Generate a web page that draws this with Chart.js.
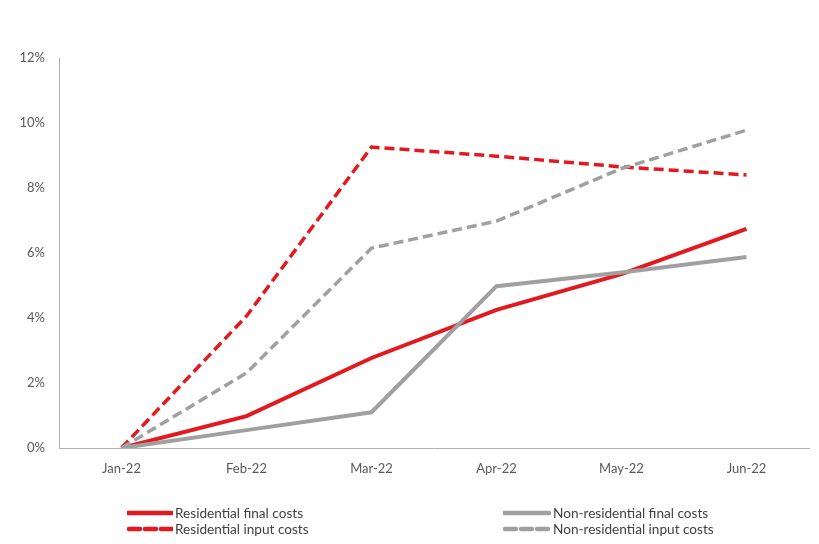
<!DOCTYPE html>
<html>
<head>
<meta charset="utf-8">
<script src="https://cdn.jsdelivr.net/npm/chart.js@4"></script>
<style>
html,body{margin:0;padding:0;background:#fff;}
#wrap{position:relative;width:819px;height:544px;}
canvas{position:absolute;left:0;top:0;}
.leg{position:absolute;font-family:Lato,"Open Sans",sans-serif;font-size:13.6px;color:#404040;display:flex;align-items:center;white-space:nowrap;height:16px;}
.leg svg{margin-right:2px;}
</style>
</head>
<body>
<div id="wrap">
<canvas id="c" width="819" height="544"></canvas>
<div class="leg" style="left:127px;top:505px;"><svg width="46" height="8"><line x1="1" y1="4" x2="45" y2="4" stroke="#e2191e" stroke-width="4.5" stroke-linecap="round"/></svg>Residential final costs</div>
<div class="leg" style="left:127px;top:521px;"><svg width="46" height="8"><line x1="2" y1="4" x2="45" y2="4" stroke="#e2191e" stroke-width="4.5" stroke-dasharray="11,5" stroke-linecap="round"/></svg>Residential input costs</div>
<div class="leg" style="left:503px;top:505px;"><svg width="48" height="8"><line x1="1" y1="4" x2="46" y2="4" stroke="#a0a0a0" stroke-width="4.5" stroke-linecap="round"/></svg>Non-residential final costs</div>
<div class="leg" style="left:503px;top:521px;"><svg width="48" height="8"><line x1="2" y1="4" x2="46" y2="4" stroke="#a0a0a0" stroke-width="4.5" stroke-dasharray="11,5" stroke-linecap="round"/></svg>Non-residential input costs</div>
</div>
<script>
const categories = ["Jan-22","Feb-22","Mar-22","Apr-22","May-22","Jun-22"];
const residentialFinal = [0, 0.98, 2.77, 4.25, 5.35, 6.74];
const nonResidentialFinal = [0, 0.55, 1.1, 4.98, 5.4, 5.88];
const residentialInput = [0, 4.06, 9.26, 8.98, 8.65, 8.4];
const nonResidentialInput = [0, 2.31, 6.15, 6.98, 8.6, 9.78];
const yTicks = [0, 2, 4, 6, 8, 10, 12];

const RED = "#e2191e", GRAY = "#a0a0a0";
const base = {fill:false, tension:0, pointRadius:0, pointHoverRadius:0, borderCapStyle:"butt", borderJoinStyle:"miter"};
new Chart(document.getElementById("c"), {
  type: "line",
  data: {
    labels: categories,
    datasets: [
      Object.assign({label:"Non-residential input costs", data:nonResidentialInput, borderColor:GRAY, borderWidth:3.5, borderDash:[10,5]}, base),
      Object.assign({label:"Residential input costs", data:residentialInput, borderColor:RED, borderWidth:3.5, borderDash:[10,5]}, base),
      Object.assign({label:"Non-residential final costs", data:nonResidentialFinal, borderColor:GRAY, borderWidth:4}, base),
      Object.assign({label:"Residential final costs", data:residentialFinal, borderColor:RED, borderWidth:4}, base)
    ]
  },
  options: {
    responsive: false,
    animation: false,
    layout: {padding: {top: 58, right: 10, bottom: 56, left: 0}},
    plugins: {legend: {display: false}, tooltip: {enabled: false}},
    scales: {
      x: {
        offset: true,
        grid: {display: false},
        border: {display: true, color: "#b0b0b0", width: 1},
        ticks: {color: "#595959", font: {family: "Lato", size: 13}, padding: 5, maxRotation: 0},
        afterFit: s => { s.height = 40; }
      },
      y: {
        min: 0, max: 12,
        grid: {display: false},
        border: {display: true, color: "#b0b0b0", width: 1},
        afterBuildTicks: s => { s.ticks = yTicks.map(v => ({value: v})); },
        ticks: {color: "#595959", font: {family: "Lato", size: 13}, padding: 6, callback: v => v + "%"},
        afterFit: s => { s.width = 59; }
      }
    }
  }
});
</script>
</body>
</html>
